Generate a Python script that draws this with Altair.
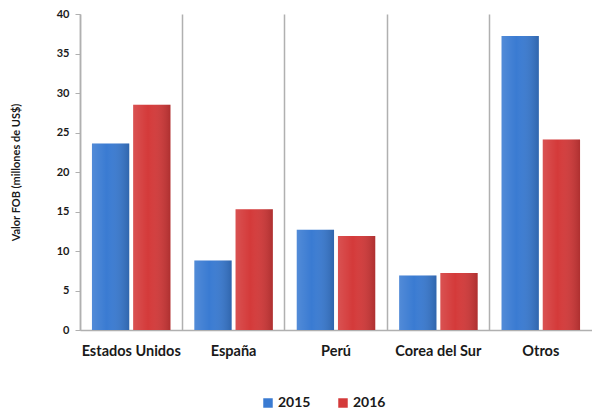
import altair as alt
import pandas as pd

categories = ["Estados Unidos", "España", "Perú", "Corea del Sur", "Otros"]
years = ["2015", "2016"]
v2015 = [23.6, 8.8, 12.7, 6.9, 37.2]
v2016 = [28.5, 15.3, 11.9, 7.2, 24.1]
y_ticks = [0, 5, 10, 15, 20, 25, 30, 35, 40]

rows = []
for c, a, b in zip(categories, v2015, v2016):
    rows.append({"pais": c, "anio": "2015", "valor": a})
    rows.append({"pais": c, "anio": "2016", "valor": b})
df = pd.DataFrame(rows)

FONT = "Lato"

x_enc = alt.X("pais:N", sort=categories, title=None,
              scale=alt.Scale(paddingInner=0, paddingOuter=0),
              axis=alt.Axis(grid=True, bandPosition=0, gridColor="#b0b0b0", gridWidth=1.5,
                            domainColor="#b0b0b0", domainWidth=1.5, ticks=False,
                            labelAngle=0, labelFont=FONT, labelFontWeight="bold",
                            labelFontSize=14.5, labelColor="#1a1a1a", labelPadding=14))
xo_enc = alt.XOffset("anio:N", sort=years,
                     scale=alt.Scale(paddingInner=0.095, paddingOuter=0.29))
y_enc = alt.Y("valor:Q", title="Valor FOB (millones de US$)",
              scale=alt.Scale(domain=[0, 40], nice=False),
              axis=alt.Axis(values=y_ticks, grid=False, domainColor="#b0b0b0", domainWidth=1.5,
                            tickColor="#b0b0b0", tickSize=5, labelPadding=6,
                            labelFont=FONT, labelFontWeight="bold", labelFontSize=11,
                            labelColor="#1a1a1a", titleFont=FONT, titleFontWeight="bold",
                            titleFontSize=11, titleColor="#1a1a1a", titlePadding=35))

bars = alt.Chart(df).mark_bar().encode(
    x=x_enc, xOffset=xo_enc, y=y_enc,
    color=alt.Color("anio:N", sort=years,
                    scale=alt.Scale(domain=years, range=["#3a7bd2", "#d43a3a"]),
                    legend=alt.Legend(title=None, orient="none", direction="horizontal",
                                      legendX=181, legendY=382, symbolType="square",
                                      symbolSize=90, symbolStrokeWidth=0,
                                      labelFont=FONT, labelFontWeight="bold",
                                      labelFontSize=14, labelColor="#1a1a1a",
                                      columnPadding=25, labelOffset=3))
)

shade = alt.Chart(df).mark_bar(
    color=alt.Gradient(gradient="linear", x1=0, x2=1, y1=0, y2=0,
                       stops=[alt.GradientStop(color="rgba(255,255,255,0.12)", offset=0),
                              alt.GradientStop(color="rgba(255,255,255,0.0)", offset=0.4),
                              alt.GradientStop(color="rgba(0,0,0,0.18)", offset=1)])
).encode(x=x_enc, xOffset=xo_enc, y=y_enc)

chart = alt.layer(bars, shade).properties(
    width=512, height=316,
    autosize=alt.AutoSizeParams(type="none"),
    padding={"left": 72, "top": 6, "right": 0, "bottom": 81},
).configure_view(stroke=None)

chart.save("out.html", embed_options={"renderer": "svg", "actions": False})
